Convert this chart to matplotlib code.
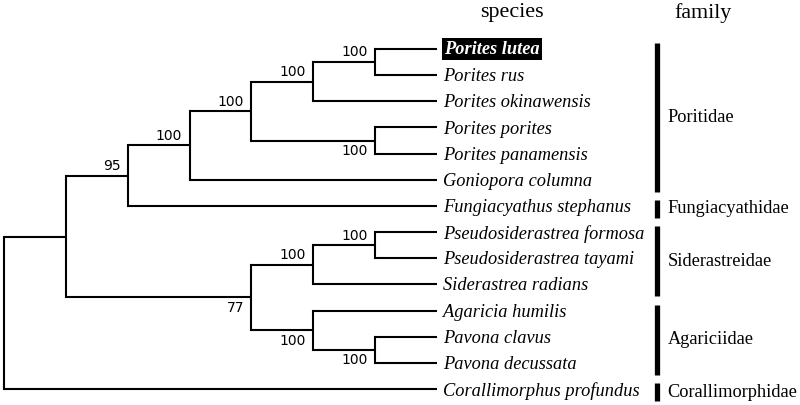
import matplotlib
matplotlib.use("Agg")
import matplotlib.pyplot as plt

# tips, top to bottom
species = ["Porites lutea", "Porites rus", "Porites okinawensis", "Porites porites",
           "Porites panamensis", "Goniopora columna", "Fungiacyathus stephanus",
           "Pseudosiderastrea formosa", "Pseudosiderastrea tayami", "Siderastrea radians",
           "Agaricia humilis", "Pavona clavus", "Pavona decussata", "Corallimorphus profundus"]
highlight = "Porites lutea"

# internal nodes, children first; "n<i>" refers to node i
node_children = [
    ["Porites lutea", "Porites rus"],
    ["n0", "Porites okinawensis"],
    ["Porites porites", "Porites panamensis"],
    ["n1", "n2"],
    ["n3", "Goniopora columna"],
    ["n4", "Fungiacyathus stephanus"],
    ["Pseudosiderastrea formosa", "Pseudosiderastrea tayami"],
    ["n6", "Siderastrea radians"],
    ["Pavona clavus", "Pavona decussata"],
    ["Agaricia humilis", "n8"],
    ["n7", "n9"],
    ["n5", "n10"],
    ["n11", "Corallimorphus profundus"],
]
node_support = [100, 100, 100, 100, 100, 95, 100, 100, 100, 100, 77, None, None]

families = ["Poritidae", "Fungiacyathidae", "Siderastreidae", "Agariciidae", "Corallimorphidae"]
family_first = ["Porites lutea", "Fungiacyathus stephanus", "Pseudosiderastrea formosa",
                "Agaricia humilis", "Corallimorphus profundus"]
family_last = ["Goniopora columna", "Fungiacyathus stephanus", "Siderastrea radians",
               "Pavona decussata", "Corallimorphus profundus"]

num_font = "DejaVu Sans"
serif = "Liberation Serif"

# layout: y = tip order, x = 7 - height (tips aligned)
ypos = {name: i for i, name in enumerate(species)}
height = {name: 0 for name in species}
for i, ch in enumerate(node_children):
    key = "n%d" % i
    ypos[key] = (ypos[ch[0]] + ypos[ch[1]]) / 2
    height[key] = max(height[c] for c in ch) + 1
tip_x = height["n%d" % (len(node_children) - 1)]
xpos = {k: tip_x - h for k, h in height.items()}
parent = {}
for i, ch in enumerate(node_children):
    for c in ch:
        parent[c] = "n%d" % i

fig = plt.figure(figsize=(8, 4.05), dpi=100)
ax = fig.add_axes([0, 0, 1, 1])
ax.set_xlim(-0.065, 12.87)
ax.set_ylim(13.61, -1.874)
ax.axis("off")

lw = 1.5
for i, ch in enumerate(node_children):
    key = "n%d" % i
    x = xpos[key]
    ys = [ypos[c] for c in ch]
    ax.plot([x, x], [min(ys), max(ys)], color="black", lw=lw, solid_capstyle="projecting")
    for c in ch:
        ax.plot([x, xpos[c]], [ypos[c], ypos[c]], color="black", lw=lw, solid_capstyle="butt")

# bootstrap values
for i, s in enumerate(node_support):
    if s is None:
        continue
    key = "n%d" % i
    p = parent[key]
    if ypos[key] < ypos[p]:
        ax.text(xpos[key] - 0.12, ypos[key] - 0.1, str(s), ha="right", va="bottom",
                family=num_font, fontsize=10)
    else:
        ax.text(xpos[key] - 0.12, ypos[key] + 0.14, str(s), ha="right", va="top",
                family=num_font, fontsize=10)

# species labels
for name in species:
    if name == highlight:
        ax.text(tip_x + 0.11, ypos[name], name, ha="left", va="center", family=serif,
                style="italic", weight="bold", fontsize=13.2, color="white",
                bbox=dict(boxstyle="square,pad=0.12", facecolor="black", edgecolor="none"))
    else:
        ax.text(tip_x + 0.1, ypos[name] + 0.06, name, ha="left", va="center", family=serif,
                style="italic", fontsize=13.2)

# family bars
bar_x = 10.56
for fam, a, b in zip(families, family_first, family_last):
    y0 = ypos[a] - 0.22
    y1 = ypos[b] + 0.45
    ax.plot([bar_x, bar_x], [y0, y1], color="black", lw=3.8, solid_capstyle="butt")
    ax.text(bar_x + 0.17, (y0 + y1) / 2, fam, ha="left", va="center", family=serif, fontsize=13.2)

ax.text(8.22, -1.38, "species", ha="center", va="center", family=serif, fontsize=15.8)
ax.text(11.3, -1.38, "family", ha="center", va="center", family=serif, fontsize=15.8)

fig.savefig("out.png", dpi=100)
